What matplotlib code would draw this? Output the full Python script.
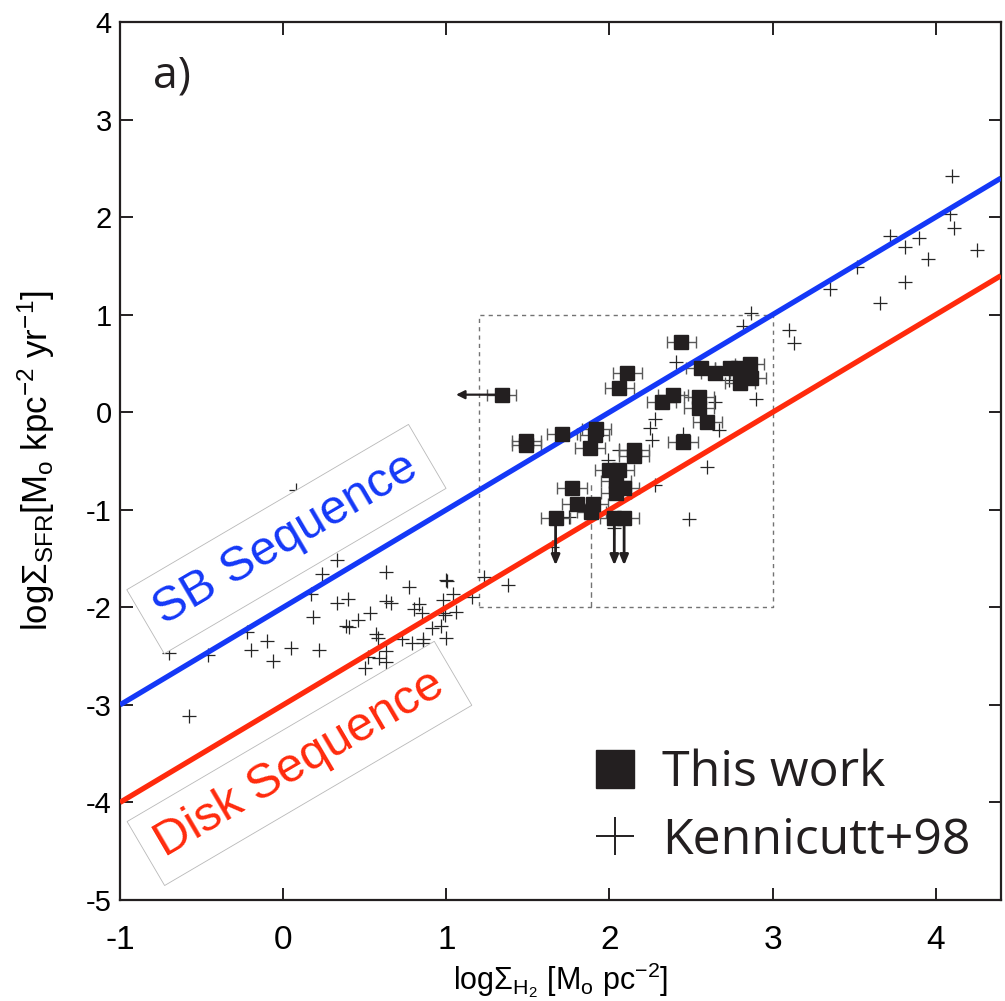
import matplotlib
matplotlib.use("Agg")
import matplotlib.pyplot as plt
from matplotlib.lines import Line2D
import numpy as np

# ---- data -------------------------------------------------------------
# This work: log Sigma_H2 vs log Sigma_SFR
work_x = [1.34, 2.44, 2.11, 2.06, 2.39, 2.32, 2.56, 2.65, 2.74, 2.79, 2.86, 2.87,
          2.80, 2.55, 2.55, 2.60, 2.45, 1.49, 1.49, 1.71, 1.92, 1.91, 1.88, 2.15,
          2.15, 2.00, 2.06, 2.04, 2.04, 2.09, 1.77, 1.80, 1.90, 1.89, 1.67, 2.03, 2.09]
work_y = [0.18, 0.72, 0.40, 0.25, 0.18, 0.10, 0.45, 0.40, 0.45, 0.45, 0.49, 0.35,
          0.30, 0.16, 0.04, -0.10, -0.31, -0.29, -0.34, -0.22, -0.17, -0.23, -0.37, -0.39,
          -0.45, -0.59, -0.59, -0.71, -0.83, -0.78, -0.78, -0.94, -0.94, -1.02, -1.08, -1.08, -1.08]
work_xerr = 0.09

# limits: upper limit in x (left arrow) and in y (down arrows)
xlim_idx = [0]
ylim_idx = [34, 35, 36]
xlim_tip = 1.06
ylim_tip = -1.57

# Kennicutt (1998) sample
ken_x = [-0.58, -0.46, -0.70, -0.22, -0.20, -0.10, -0.06, 0.05, 0.22, 0.18, 0.17, 0.24,
         0.33, 0.33, 0.40, 0.385, 0.405, 0.46, 0.53, 0.63, 0.63, 0.66, 0.57, 0.58,
         0.63, 0.59, 0.63, 0.50, 0.52, 0.77, 0.80, 0.83, 0.85, 0.73, 0.79, 0.86,
         0.86, 0.91, 0.97, 0.98, 1.00, 1.00, 1.005, 0.98, 1.04, 1.06, 0.99, 1.16,
         1.23, 1.38, 0.08,
         2.87, 2.82, 3.10, 3.13, 2.405, 2.65, 2.90, 2.28, 2.25, 2.26, 2.67, 2.45,
         2.06, 2.60, 2.28, 2.49, 1.99, 2.03, 1.65, 1.75, 2.73,
         4.10, 4.09, 4.11, 4.25, 3.72, 3.90, 3.81, 3.95, 3.81, 3.66, 3.52, 3.35]
ken_y = [-3.11, -2.49, -2.47, -2.25, -2.44, -2.34, -2.55, -2.42, -2.44, -2.10, -1.86, -1.66,
         -1.51, -1.96, -1.91, -2.19, -2.20, -2.13, -2.06, -1.64, -1.94, -1.96, -2.27, -2.31,
         -2.45, -2.52, -2.56, -2.62, -2.51, -1.79, -2.02, -1.97, -2.06, -2.32, -2.37, -2.32,
         -2.37, -2.21, -2.19, -2.06, -2.31, -1.72, -1.73, -1.92, -1.86, -2.05, -2.08, -1.89,
         -1.69, -1.77, -0.80,
         1.02, 0.88, 0.84, 0.71, 0.51, 0.10, 0.14, -0.07, -0.16, -0.28, -0.18, -0.22,
         -0.39, -0.56, -0.75, -1.09, -0.49, -1.19, -1.38, -1.07, 0.33,
         2.42, 2.03, 1.885, 1.66, 1.81, 1.79, 1.69, 1.57, 1.34, 1.12, 1.49, 1.26]

# star-formation sequences: log SFR = log H2 + offset
sb_offset = -2.0
disk_offset = -3.0

# highlighted region
region_x = [1.2, 3.0]
region_y = [-2.0, 1.0]
region_split_x = 1.89
region_split_top = -0.7

x_ticks = [-1, 0, 1, 2, 3, 4]
y_ticks = [-5, -4, -3, -2, -1, 0, 1, 2, 3, 4]

# ---- style ------------------------------------------------------------
plt.rcParams['axes.unicode_minus'] = False
plt.rcParams['mathtext.fontset'] = 'custom'
plt.rcParams['mathtext.rm'] = 'Liberation Sans'
plt.rcParams['mathtext.it'] = 'Liberation Sans:italic'
plt.rcParams['mathtext.bf'] = 'Liberation Sans:bold'
arial = ['Liberation Sans', 'DejaVu Sans']
humanist = ['Open Sans', 'DejaVu Sans']

blue = '#1438f7'
red = '#ff2a0c'
ink = '#231f20'

fig = plt.figure(figsize=(10.05, 10.01), dpi=100)
ax = fig.add_axes([0.1194, 0.1009, 0.8766, 0.8771])
ax.set_xlim(-1, 4.4)
ax.set_ylim(-5, 4)

# sequences
xs = np.array([-1, 4.4])
ax.plot(xs, xs + sb_offset, color=blue, lw=3.8, solid_capstyle='butt', zorder=4)
ax.plot(xs, xs + disk_offset, color=red, lw=3.8, solid_capstyle='butt', zorder=4)

# highlighted region (dashed)
rx = [region_x[0], region_x[1], region_x[1], region_x[0], region_x[0]]
ry = [region_y[0], region_y[0], region_y[1], region_y[1], region_y[0]]
ax.plot(rx, ry, ls=(0, (3, 3)), color='0.45', lw=1.0, zorder=1)
ax.plot([region_split_x, region_split_x], [region_y[0], region_split_top],
        ls=(0, (4, 3)), color='0.45', lw=1.0, zorder=1)

# Kennicutt points
ax.plot(ken_x, ken_y, ls='none', marker='+', ms=10, mew=0.9, color='0.15', zorder=2)

# this work: error bars + squares
ax.errorbar(work_x, work_y, xerr=work_xerr, fmt='none', ecolor='0.35', elinewidth=1.0,
            capsize=4, capthick=1.0, zorder=3)
ax.plot(work_x, work_y, ls='none', marker='s', ms=9.5, color=ink, zorder=5)

for i in xlim_idx:
    ax.annotate('', xy=(xlim_tip, work_y[i]), xytext=(work_x[i], work_y[i]),
                arrowprops=dict(arrowstyle='-|>,head_length=0.5,head_width=0.25',
                                color=ink, lw=1.6, shrinkA=0, shrinkB=0), zorder=5)
for i in ylim_idx:
    ax.annotate('', xy=(work_x[i], ylim_tip), xytext=(work_x[i], work_y[i]),
                arrowprops=dict(arrowstyle='-|>,head_length=0.6,head_width=0.25',
                                color=ink, lw=2.0, shrinkA=0, shrinkB=0), zorder=5)

# sequence labels
box = dict(boxstyle='square,pad=0.3', fc='white', ec='0.72', lw=0.6)
ax.text(0.02, -1.30, 'SB Sequence', color=blue, fontsize=35, family=arial,
        rotation=30.4, rotation_mode='anchor', ha='center', va='center',
        bbox=box, zorder=3)
ax.text(0.10, -3.60, 'Disk Sequence', color=red, fontsize=35, family=arial,
        rotation=30.4, rotation_mode='anchor', ha='center', va='center',
        bbox=box, zorder=3)

# panel label
ax.text(0.0375, 0.925, 'a)', transform=ax.transAxes, fontsize=32, family=humanist,
        color=ink, ha='left', va='baseline')

# legend
handles = [Line2D([], [], ls='none', marker='s', ms=28, color=ink),
           Line2D([], [], ls='none', marker='+', ms=28, mew=1.4, color=ink)]
leg = ax.legend(handles, ['This work', 'Kennicutt+98'], loc='upper left',
                bbox_to_anchor=(0.533, 0.172), frameon=False, handlelength=1.0,
                handletextpad=0.45, labelspacing=0.36, borderpad=0, borderaxespad=0,
                prop={'family': humanist, 'size': 36})
for t in leg.get_texts():
    t.set_color(ink)

# axes styling
for s in ax.spines.values():
    s.set_linewidth(1.6)
    s.set_color(ink)
ax.set_xticks(x_ticks)
ax.set_yticks(y_ticks)
ax.tick_params(direction='in', length=9, width=1.4, top=True, right=True, color=ink)
ax.tick_params(axis='x', pad=18)
ax.tick_params(axis='y', pad=6)
for lab in ax.get_xticklabels():
    lab.set_fontfamily(arial)
    lab.set_fontsize(24)
for lab in ax.get_yticklabels():
    lab.set_fontfamily(arial)
    lab.set_fontsize(21)

ax.set_xlabel('log\u03a3$_{\\rm H_2}$ [M$_{\\rm o}$ pc$^{-2}$]', family=arial,
              fontsize=22)
ax.xaxis.set_label_coords(0.5, -0.068)
ax.set_ylabel('log\u03a3$_{\\rm SFR}$[M$_{\\rm o}$ kpc$^{-2}$ yr$^{-1}$]', family=arial,
              fontsize=25)
ax.yaxis.set_label_coords(-0.072, 0.50)

fig.savefig('out.png', dpi=100)
